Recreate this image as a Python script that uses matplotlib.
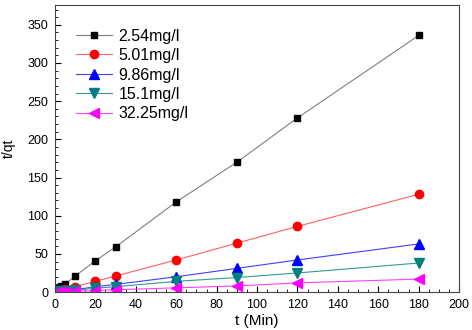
import matplotlib.pyplot as plt
from matplotlib.ticker import MultipleLocator

plt.rcParams['font.family'] = ['Liberation Sans', 'DejaVu Sans']

t = [1, 3, 5, 10, 20, 30, 60, 90, 120, 180]
labels = ['2.54mg/l', '5.01mg/l', '9.86mg/l', '15.1mg/l', '32.25mg/l']
tq_254 = [5, 8, 10.5, 21, 41, 59, 118, 170, 228, 336]
tq_501 = [1.5, 2.5, 3.5, 7, 14, 21, 42, 64, 86, 128]
tq_986 = [0.8, 1.2, 1.8, 3, 7, 10, 20, 31, 42, 63]
tq_151 = [0.5, 0.9, 1.3, 2.5, 5, 7, 14, 19, 25, 38]
tq_3225 = [0.3, 0.5, 0.7, 1, 2, 3, 5.5, 8, 12, 17]

series = [tq_254, tq_501, tq_986, tq_151, tq_3225]
line_colors = ['#808080', '#ff6060', '#4040ff', '#339999', '#ff40ff']
marker_colors = ['black', 'red', 'blue', '#008080', 'magenta']
markers = ['s', 'o', '^', 'v', '<']
msizes = [5, 6, 6.5, 6.5, 6.5]

fig = plt.figure(figsize=(4.72, 3.30), dpi=100)
ax = fig.add_axes([0.1165, 0.115, 0.856, 0.87])

for y, lab, lc, mc, m, ms in zip(series, labels, line_colors, marker_colors, markers, msizes):
    ax.plot(t, y, color=lc, lw=0.8, marker=m, markersize=ms,
            markerfacecolor=mc, markeredgecolor=mc, label=lab)

ax.set_xlim(0, 200)
ax.set_ylim(0, 376)
ax.xaxis.set_major_locator(MultipleLocator(20))
ax.xaxis.set_minor_locator(MultipleLocator(5))
ax.yaxis.set_major_locator(MultipleLocator(50))
ax.yaxis.set_minor_locator(MultipleLocator(10))
ax.tick_params(which='both', direction='in', top=False, right=False, labelsize=9)
ax.tick_params(which='major', length=4, pad=5)
ax.tick_params(which='minor', length=2)
for s in ax.spines.values():
    s.set_color('#444444')

ax.set_xlabel('t (Min)', fontsize=11, labelpad=2)
ax.set_ylabel('t/qt', fontsize=10, labelpad=8)

ax.legend(loc='upper left', frameon=False, fontsize=11.5, handlelength=2.3,
          labelspacing=0.28, handletextpad=0.4, borderaxespad=0,
          bbox_to_anchor=(0.035, 0.94))

fig.savefig('out.png', dpi=100)
